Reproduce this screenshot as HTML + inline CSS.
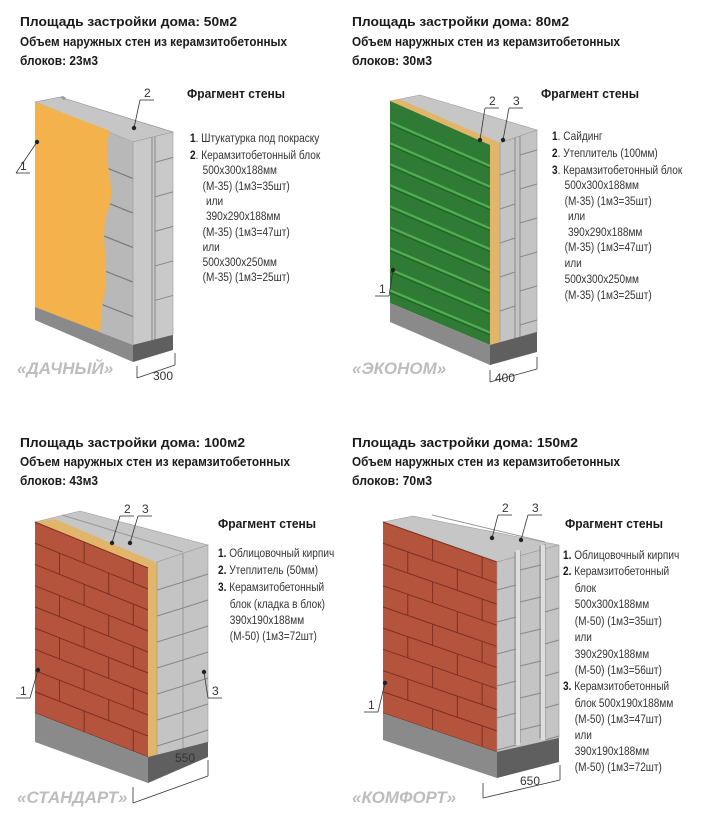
<!DOCTYPE html>
<html><head><meta charset="utf-8"><style>
body{margin:0;background:#fff}
svg{display:block}
.h{font:bold 13px "Liberation Sans",sans-serif;fill:#1a1a1a}
.f{font:bold 13px "Liberation Sans",sans-serif;fill:#1a1a1a}
.t{font:12px "Liberation Sans",sans-serif;fill:#333}
.b{font-weight:bold;fill:#1a1a1a}
.n{font:12px "Liberation Sans",sans-serif;fill:#333}
.nm{font:italic bold 17px "Liberation Sans",sans-serif;fill:#bdbdbd}
</style></head><body>
<svg id="s" width="701" height="821" xmlns="http://www.w3.org/2000/svg">
<text class="h" x="20" y="26" textLength="217" lengthAdjust="spacingAndGlyphs">Площадь застройки дома: 50м2</text>
<text class="h" x="20" y="46" textLength="267" lengthAdjust="spacingAndGlyphs">Объем наружных стен из керамзитобетонных</text>
<text class="h" x="20" y="65" textLength="78" lengthAdjust="spacingAndGlyphs">блоков: 23м3</text>
<text class="h" x="352" y="26" textLength="217" lengthAdjust="spacingAndGlyphs">Площадь застройки дома: 80м2</text>
<text class="h" x="352" y="46" textLength="268" lengthAdjust="spacingAndGlyphs">Объем наружных стен из керамзитобетонных</text>
<text class="h" x="352" y="65" textLength="80" lengthAdjust="spacingAndGlyphs">блоков: 30м3</text>
<text class="h" x="20" y="447" textLength="225" lengthAdjust="spacingAndGlyphs">Площадь застройки дома: 100м2</text>
<text class="h" x="20" y="466" textLength="270" lengthAdjust="spacingAndGlyphs">Объем наружных стен из керамзитобетонных</text>
<text class="h" x="20" y="485" textLength="78" lengthAdjust="spacingAndGlyphs">блоков: 43м3</text>
<text class="h" x="352" y="447" textLength="226" lengthAdjust="spacingAndGlyphs">Площадь застройки дома: 150м2</text>
<text class="h" x="352" y="466" textLength="268" lengthAdjust="spacingAndGlyphs">Объем наружных стен из керамзитобетонных</text>
<text class="h" x="352" y="485" textLength="80" lengthAdjust="spacingAndGlyphs">блоков: 70м3</text>

<text class="f" x="187" y="98" textLength="98" lengthAdjust="spacingAndGlyphs">Фрагмент стены</text>
<text class="f" x="541" y="98" textLength="98" lengthAdjust="spacingAndGlyphs">Фрагмент стены</text>
<text class="f" x="218" y="528" textLength="98" lengthAdjust="spacingAndGlyphs">Фрагмент стены</text>
<text class="f" x="565" y="528" textLength="98" lengthAdjust="spacingAndGlyphs">Фрагмент стены</text>

<g transform="translate(190,0) scale(0.84,1)" class="t">
<text y="142"><tspan class="b">1</tspan>. Штукатурка под покраску</text>
<text y="159"><tspan class="b">2</tspan>. Керамзитобетонный блок</text>
<text x="15" y="174">500x300x188мм</text>
<text x="15" y="190">(М-35) (1м3=35шт)</text>
<text x="19" y="205">или</text>
<text x="19" y="220">390x290x188мм</text>
<text x="15" y="236">(М-35) (1м3=47шт)</text>
<text x="15" y="251">или</text>
<text x="15" y="266">500x300x250мм</text>
<text x="15" y="281">(М-35) (1м3=25шт)</text>
</g>
<g transform="translate(552,0) scale(0.84,1)" class="t">
<text y="140"><tspan class="b">1</tspan>. Сайдинг</text>
<text y="157"><tspan class="b">2</tspan>. Утеплитель (100мм)</text>
<text y="174"><tspan class="b">3</tspan>. Керамзитобетонный блок</text>
<text x="15" y="189">500x300x188мм</text>
<text x="15" y="205">(М-35) (1м3=35шт)</text>
<text x="19" y="220">или</text>
<text x="19" y="236">390x290x188мм</text>
<text x="15" y="251">(М-35) (1м3=47шт)</text>
<text x="15" y="267">или</text>
<text x="15" y="283">500x300x250мм</text>
<text x="15" y="299">(М-35) (1м3=25шт)</text>
</g>
<g transform="translate(218,0) scale(0.84,1)" class="t">
<text y="557"><tspan class="b">1.</tspan> Облицовочный кирпич</text>
<text y="574"><tspan class="b">2.</tspan> Утеплитель (50мм)</text>
<text y="591"><tspan class="b">3.</tspan> Керамзитобетонный</text>
<text x="14" y="608">блок (кладка в блок)</text>
<text x="14" y="624">390x190x188мм</text>
<text x="14" y="640">(М-50) (1м3=72шт)</text>
</g>
<g transform="translate(563,0) scale(0.84,1)" class="t">
<text y="559"><tspan class="b">1.</tspan> Облицовочный кирпич</text>
<text y="575"><tspan class="b">2.</tspan> Керамзитобетонный</text>
<text x="14" y="592">блок</text>
<text x="14" y="608">500x300x188мм</text>
<text x="14" y="625">(М-50) (1м3=35шт)</text>
<text x="14" y="641">или</text>
<text x="14" y="658">390x290x188мм</text>
<text x="14" y="674">(М-50) (1м3=56шт)</text>
<text y="690"><tspan class="b">3.</tspan> Керамзитобетонный</text>
<text x="14" y="707">блок 500x190x188мм</text>
<text x="14" y="723">(М-50) (1м3=47шт)</text>
<text x="14" y="739">или</text>
<text x="14" y="755">390x190x188мм</text>
<text x="14" y="771">(М-50) (1м3=72шт)</text>
</g>

<text class="nm" x="17" y="374">«ДАЧНЫЙ»</text>
<text class="nm" x="352" y="374">«ЭКОНОМ»</text>
<text class="nm" x="17" y="803">«СТАНДАРТ»</text>
<text class="nm" x="352" y="803">«КОМФОРТ»</text>
<g id="walls"></g>
</svg>
<script>
var g=document.getElementById('walls'),NS='http://www.w3.org/2000/svg';
function el(n,a){var e=document.createElementNS(NS,n);for(var k in a)e.setAttribute(k,a[k]);g.appendChild(e);return e;}
function P(pts,fill,st){return el('polygon',{points:pts.map(function(p){return p.join(',')}).join(' '),fill:fill,stroke:st||'none','stroke-width':0.6});}
function L(a,b,c,w){return el('line',{x1:a[0],y1:a[1],x2:b[0],y2:b[1],stroke:c,'stroke-width':w||1});}
function bi(q,u,v){var tl=q[0],tr=q[1],br=q[2],bl=q[3];
 var t=[tl[0]+(tr[0]-tl[0])*u,tl[1]+(tr[1]-tl[1])*u],b=[bl[0]+(br[0]-bl[0])*u,bl[1]+(br[1]-bl[1])*u];
 return [t[0]+(b[0]-t[0])*v,t[1]+(b[1]-t[1])*v];}
function T(x,y,s){var e=el('text',{x:x,y:y,'class':'n'});e.textContent=s;}
function lbl(tx,ty,s,dx,dy,flip){T(tx,ty,s);var ux=tx-4;L([ux,ty+3],[ux+14,ty+3],'#333',0.8);
 L([flip?ux+14:ux,ty+3],[dx,dy],'#333',0.8);el('circle',{cx:dx,cy:dy,r:2.2,fill:'#222'});}
function bricks(q,rows,cols,col,jc){P(q,col);
 for(var r=0;r<rows;r++){var v0=r/rows,v1=(r+1)/rows;L(bi(q,0,v1),bi(q,1,v1),jc,1);
  var off=(r%2)?0.5/cols:0;for(var c=0;c<=cols;c++){var u=c/cols+off;if(u>0.02&&u<0.98)L(bi(q,u,v0),bi(q,u,v1),jc,1);}}
 L(bi(q,0,0),bi(q,1,0),jc,1);}
function dim(a,b,off,s,tx,ty){L(a,[a[0],a[1]+off],'#333',0.8);L(b,[b[0],b[1]+off],'#333',0.8);L([a[0],a[1]+off],[b[0],b[1]+off],'#333',0.8);T(tx,ty,s);}

P([[35,102],[60,97],[173,132],[133,142]],'#c6c6c6','#888');
el('path',{d:'M60,97 l3,-1 3,2 -2,2 z',fill:'#999'});
var F1=[[35,102],[133,142],[133,345],[35,307]];P(F1,'#b8b8b8');
[0.18,0.35,0.52,0.69,0.86].forEach(function(v){L(bi(F1,0.6,v),bi(F1,1,v),'#7a7a7a',1.2)});
P([[133,142],[173,132],[173,335],[133,345]],'#c9c9c9','#999');
L([152,137],[152,340],'#888',1);L([155,137],[155,340],'#888',1);
[0.13,0.3,0.47,0.64,0.81].forEach(function(v){L([155,136+v*203],[173,131+v*203],'#888',1)});
el('path',{d:'M35,102 L110,131 C100,160 118,185 108,210 C98,240 112,270 103,300 L100,333 L35,307 Z',fill:'#f4b24c'});
P([[35,307],[133,345],[133,362],[35,320]],'#8a8a8a');P([[133,345],[173,335],[173,350],[133,362]],'#5f5f5f');
dim([137,366],[175,353],12,'300',153,380);
lbl(144,97,'2',134,128);lbl(20,170,'1',37,142);

P([[390,101],[420,95],[537,130],[500,143],[490,145]],'#c6c6c6','#999');
P([[390,101],[490,145],[500,143],[399,99]],'#e2b66a');
var F2=[[390,101],[490,145],[490,345],[390,303]];P(F2,'#2f7a34');
for(var i=1;i<10;i++){var v=i/9.6;L(bi(F2,0,v),bi(F2,1,v),'#4fae4f',2.2);L(bi(F2,0,v+0.012),bi(F2,1,v+0.012),'#1f5a22',0.8);}
P([[490,145],[500,143],[500,345],[490,345]],'#e2b66a');
P([[500,143],[537,130],[537,332],[500,345]],'#c4c4c4','#999');
L([515,138],[515,340],'#888',1);L([520,136],[520,338],'#888',1);
for(i=0;i<6;i++){L([500,175+i*34],[515,170+i*34],'#888',1);L([520,155+i*34],[537,150+i*34],'#888',1);}
P([[390,303],[490,345],[490,365],[390,322]],'#8a8a8a');P([[490,345],[537,332],[537,352],[490,365]],'#5f5f5f');
dim([490,370],[537,357],12,'400',495,382);
lbl(489,105,'2',480,140);lbl(513,105,'3',503,140);lbl(379,293,'1',393,270,true);

P([[35,522],[80,511],[208,545],[157,562],[148,568]],'#c6c6c6','#999');
L([62,515],[183,552],'#999',1);
P([[35,522],[148,568],[157,563],[55,519]],'#e2b66a');
var F3=[[35,522],[148,568],[148,757],[35,713]];bricks(F3,9,2.3,'#b5543d','#7e2f20');
P([[148,568],[157,563],[157,757],[148,757]],'#e2b66a');
P([[157,562],[208,545],[208,742],[157,757]],'#c4c4c4','#999');L([183,553],[183,749],'#999',1);
for(i=0;i<7;i++){L([157,590+i*26],[183,582+i*26],'#888',1);L([183,582+i*26],[208,574+i*26],'#888',1);}
P([[35,713],[148,757],[148,783],[35,742]],'#8a8a8a');P([[148,757],[208,742],[208,757],[148,783]],'#5f5f5f');
dim([133,787],[208,760],16,'550',175,762);
lbl(124,513,'2',112,543);lbl(142,513,'3',130,543);lbl(20,695,'1',38,670,true);lbl(212,695,'3',204,672);

P([[383,522],[413,516],[559,545],[497,562]],'#c6c6c6','#999');L([432,515],[545,542],'#999',1);
var F4=[[383,522],[497,562],[497,752],[383,713]];bricks(F4,9,2.3,'#b5543d','#7e2f20');
P([[497,562],[559,545],[559,738],[497,752]],'#c4c4c4','#999');
[515,520,540,545].forEach(function(x){L([x,557-(x-497)*0.27],[x,748-(x-497)*0.22],'#888',1)});
el('rect',{x:516,y:550,width:4,height:195,fill:'#dedede'});el('rect',{x:541,y:545,width:4,height:195,fill:'#dedede'});
for(i=0;i<6;i++){L([497,590+i*32],[516,585+i*32],'#888',1);L([520,570+i*32],[541,565+i*32],'#888',1);L([545,580+i*32],[559,576+i*32],'#888',1);}
P([[383,713],[497,752],[497,778],[383,740]],'#8a8a8a');P([[497,752],[559,738],[559,762],[497,778]],'#5f5f5f');
dim([483,783],[560,765],15,'650',520,785);
lbl(502,512,'2',492,538);lbl(532,512,'3',521,540);lbl(368,709,'1',385,683,true);
</script>
</body></html>
